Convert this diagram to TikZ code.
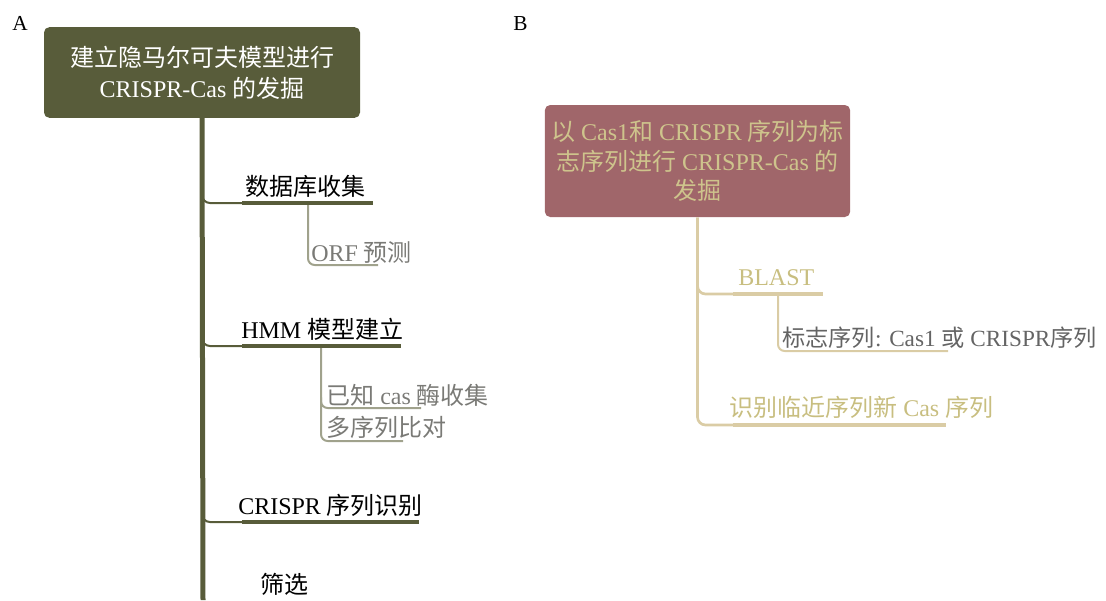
\documentclass[tikz,border=0pt]{standalone}
\usepackage{fontspec}
\setmainfont{Liberation Serif}
\newfontfamily\cjk{Noto Sans CJK SC}
\newcommand\zh[1]{{\cjk #1}}
\definecolor{oliveA}{RGB}{88,92,58}
\definecolor{greyline}{RGB}{160,162,140}
\definecolor{greytext}{RGB}{122,122,118}
\definecolor{roseB}{RGB}{160,102,106}
\definecolor{khakiB}{RGB}{206,196,140}
\definecolor{khakitext}{RGB}{200,190,128}
\definecolor{tanB}{RGB}{218,204,165}
\definecolor{darktext}{RGB}{100,100,100}

\begin{document}
\begin{tikzpicture}[x=0.75pt,y=-0.75pt,
  every node/.style={inner sep=0pt, font=\fontsize{18}{22}\selectfont},
  panel/.style={anchor=base west, font=\fontsize{16}{18}\selectfont},
  rootA/.style={fill=oliveA, rounded corners=4pt, text=white, align=center,
    minimum width=237pt, minimum height=68pt, font=\fontsize{18}{23.25}\selectfont},
  rootB/.style={fill=roseB, rounded corners=4pt, text=khakiB, align=center,
    minimum width=229pt, minimum height=84pt, font=\fontsize{18}{22}\selectfont},
  topic/.style={anchor=base west},
  subtopic/.style={anchor=base west, text=greytext},
  trunk/.style={draw=oliveA, line width=3.75pt},
  linkA/.style={draw=oliveA, line width=1.5pt, rounded corners=6pt},
  underA/.style={draw=oliveA, line width=3pt},
  subA/.style={draw=greyline, line width=1.5pt, rounded corners=5pt},
  linkB/.style={draw=tanB, line width=2pt, rounded corners=6pt},
  underB/.style={draw=tanB, line width=3pt},
  subB/.style={draw=tanB, line width=1.5pt, rounded corners=5pt}]
\useasboundingbox (0,0) rectangle (1106,600);

% panel A
\node[panel] (labA) at (12,30) {A};
\node[rootA] (mapA) at (202,72.5) {\zh{建立隐马尔可夫模型进行}\\CRISPR-Cas \zh{的发掘}};
\coordinate (endA) at (203,600);
\coordinate (u1s) at (242,203);
\coordinate (u1e) at (373,203);
\coordinate (u2s) at (242,346);
\coordinate (u2e) at (401,346);
\coordinate (u3s) at (242,522);
\coordinate (u3e) at (419,522);
\coordinate (s1s) at (308,265);
\coordinate (s1e) at (378,265);
\coordinate (s2s) at (321,408);
\coordinate (s2e) at (421,408);
\coordinate (s3s) at (321,441);
\coordinate (s3e) at (403,441);

\node[topic] (db) at (245,195) {\zh{数据库收集}};
\node[subtopic] (orf) at (311,261) {ORF \zh{预测}};
\node[topic] (hmm) at (241,338) {HMM \zh{模型建立}};
\node[subtopic] (known) at (326,404) {\zh{已知} cas \zh{酶收集}};
\node[subtopic] (msa) at (326,436) {\zh{多序列比对}};
\node[topic] (crispr) at (238,514) {CRISPR \zh{序列识别}};
\node[topic] (filt) at (260,593) {\zh{筛选}};

\draw[trunk] (mapA.south) -- (endA);
\draw[linkA] ([yshift=8pt]mapA.south |- u1s) |- (u1s);
\draw[linkA] ([yshift=8pt]mapA.south |- u2s) |- (u2s);
\draw[linkA] ([yshift=8pt]mapA.south |- u3s) |- (u3s);
\draw[subA] (s1s |- u1s) -- (s1s) -- (s1e);
\draw[subA] (s3s |- u2s) -- (s3s) -- (s3e);
\draw[subA] ([yshift=8pt]s2s) -- (s2s) -- (s2e);
\draw[underA] (u1s) -- (u1e);
\draw[underA] (u2s) -- (u2e);
\draw[underA] (u3s) -- (u3e);

% panel B
\node[panel] (labB) at (513,30) {B};
\node[rootB] (mapB) at (697.5,161) {\zh{以} Cas1\zh{和} CRISPR \zh{序列为标}\\\zh{志序列进行} CRISPR-Cas \zh{的}\\\zh{发掘}};
\coordinate (v1s) at (733,294);
\coordinate (v1e) at (823,294);
\coordinate (v2s) at (733,425);
\coordinate (v2e) at (946,425);
\coordinate (w1s) at (778,351);
\coordinate (w1e) at (948,351);

\node[topic, text=khakitext] (blast) at (738,285) {BLAST};
\node[subtopic, text=darktext, font=\fontsize{17.4}{22}\selectfont] (mark) at (782,346) {\zh{标志序列}: Cas1 \zh{或} CRISPR\zh{序列}};
\node[topic, text=khakitext] (near) at (729,416) {\zh{识别临近序列新} Cas \zh{序列}};

\draw[linkB] (mapB.south) |- (v2s);
\draw[linkB] ([yshift=8pt]mapB.south |- v1s) |- (v1s);
\draw[subB] (w1s |- v1s) -- (w1s) -- (w1e);
\draw[underB] (v1s) -- (v1e);
\draw[underB] (v2s) -- (v2e);
\end{tikzpicture}
\end{document}
